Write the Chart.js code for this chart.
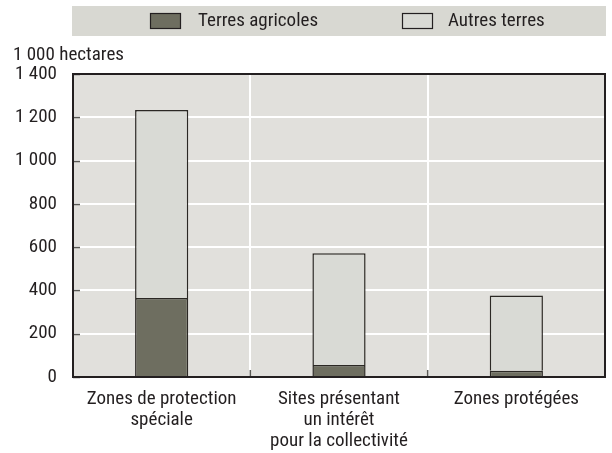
<!DOCTYPE html>
<html>
<head>
<meta charset="utf-8">
<script src="https://cdn.jsdelivr.net/npm/chart.js@4"></script>
<style>
  html, body { margin: 0; padding: 0; background: #fff; }
  #wrap { width: 612px; height: 453px; position: relative; }
</style>
</head>
<body>
<div id="wrap"><canvas id="landChart" width="612" height="453"></canvas></div>
<script>
// Catégories et séries (1 000 hectares)
const categories = [
    ['Zones de protection', 'spéciale'],
    ['Sites présentant', 'un intérêt', 'pour la collectivité'],
    ['Zones protégées']
];
const terresAgricoles = [365, 55, 29];
const autresTerres = [869, 517, 347];
const yTickLabels = ['0', '200', '400', '600', '800', '1 000', '1 200', '1 400'];
const yTitle = '1 000 hectares';
const seriesNames = ['Terres agricoles', 'Autres terres'];

const FONT = "'Liberation Sans Narrow', 'Roboto Condensed', 'Arial Narrow', 'Liberation Sans', sans-serif";
const TEXT = '#231f20';
const FSIZE = 19;

// fond gris, cadre, petits traits des graduations, légende, titre d'axe
const decorPlugin = {
    id: 'decor',
    beforeDraw(chart) {
        const { ctx, chartArea: a } = chart;
        ctx.save();
        ctx.fillStyle = '#e1e0dc';
        ctx.fillRect(a.left, a.top, a.right - a.left, a.bottom - a.top);
        ctx.restore();
    },
    afterDatasetsDraw(chart) {
        const { ctx, chartArea: a, scales } = chart;
        ctx.save();
        // graduations Y
        ctx.strokeStyle = '#5a5a55';
        ctx.lineWidth = 1.5;
        scales.y.ticks.forEach((t) => {
            const y = Math.round(scales.y.getPixelForValue(t.value)) + 0.5;
            ctx.beginPath();
            ctx.moveTo(a.left, y);
            ctx.lineTo(a.left + 7, y);
            ctx.stroke();
        });
        // petits traits entre catégories
        for (let i = 1; i < categories.length; i++) {
            const x = (scales.x.getPixelForValue(i - 1) + scales.x.getPixelForValue(i)) / 2;
            ctx.beginPath();
            ctx.moveTo(x, a.bottom);
            ctx.lineTo(x, a.bottom - 7);
            ctx.stroke();
        }
        // cadre
        ctx.strokeStyle = '#231f20';
        ctx.lineWidth = 2;
        ctx.strokeRect(a.left, a.top, a.right - a.left, a.bottom - a.top);

        // titre de l'axe
        ctx.fillStyle = TEXT;
        ctx.font = FSIZE + 'px ' + FONT;
        ctx.textBaseline = 'middle';
        ctx.textAlign = 'left';
        ctx.fillText(yTitle, 13, 55);

        // légende
        ctx.fillStyle = '#d8d8d2';
        ctx.fillRect(72, 6, 534, 30);
        const sw = [
            { x: 150, fill: '#6e6e60', tx: 198 },
            { x: 402, fill: '#d9dad5', tx: 448 }
        ];
        sw.forEach((s, i) => {
            ctx.fillStyle = s.fill;
            ctx.fillRect(s.x, 13, 31, 16);
            ctx.strokeStyle = '#231f20';
            ctx.lineWidth = 1.2;
            ctx.strokeRect(s.x + 0.5, 13.5, 30, 15);
            ctx.fillStyle = TEXT;
            ctx.fillText(seriesNames[i], s.tx, 21);
        });
        ctx.restore();
    }
};

new Chart(document.getElementById('landChart'), {
    type: 'bar',
    data: {
        labels: categories,
        datasets: [{
            label: seriesNames[0],
            data: terresAgricoles,
            backgroundColor: '#6e6e60',
            borderColor: '#2b2824',
            borderWidth: 1.5,
            categoryPercentage: 1,
            barPercentage: 0.3
        }, {
            label: seriesNames[1],
            data: autresTerres,
            backgroundColor: '#d9dad5',
            borderColor: '#2b2824',
            borderWidth: 1.5,
            categoryPercentage: 1,
            barPercentage: 0.3
        }]
    },
    options: {
        responsive: false,
        animation: false,
        devicePixelRatio: 1,
        layout: { padding: { top: 74, right: 7, left: 0, bottom: 0 } },
        plugins: {
            legend: { display: false },
            tooltip: { enabled: false }
        },
        scales: {
            x: {
                stacked: true,
                offset: true,
                grid: {
                    offset: true,
                    color: '#ffffff',
                    lineWidth: 2,
                    drawTicks: false
                },
                border: { display: false },
                ticks: {
                    color: TEXT,
                    font: { family: FONT, size: FSIZE, lineHeight: 1.1 },
                    padding: 12,
                    maxRotation: 0,
                    autoSkip: false
                },
                afterFit(scale) { scale.height = 76; }
            },
            y: {
                stacked: true,
                min: 0,
                max: 1400,
                grid: {
                    color: '#ffffff',
                    lineWidth: 2,
                    drawTicks: false
                },
                border: { display: false },
                ticks: {
                    stepSize: 200,
                    color: TEXT,
                    font: { family: FONT, size: FSIZE },
                    padding: 16,
                    callback: (v, i) => yTickLabels[i]
                },
                afterFit(scale) { scale.width = 73; }
            }
        }
    },
    plugins: [decorPlugin]
});
</script>
</body>
</html>
